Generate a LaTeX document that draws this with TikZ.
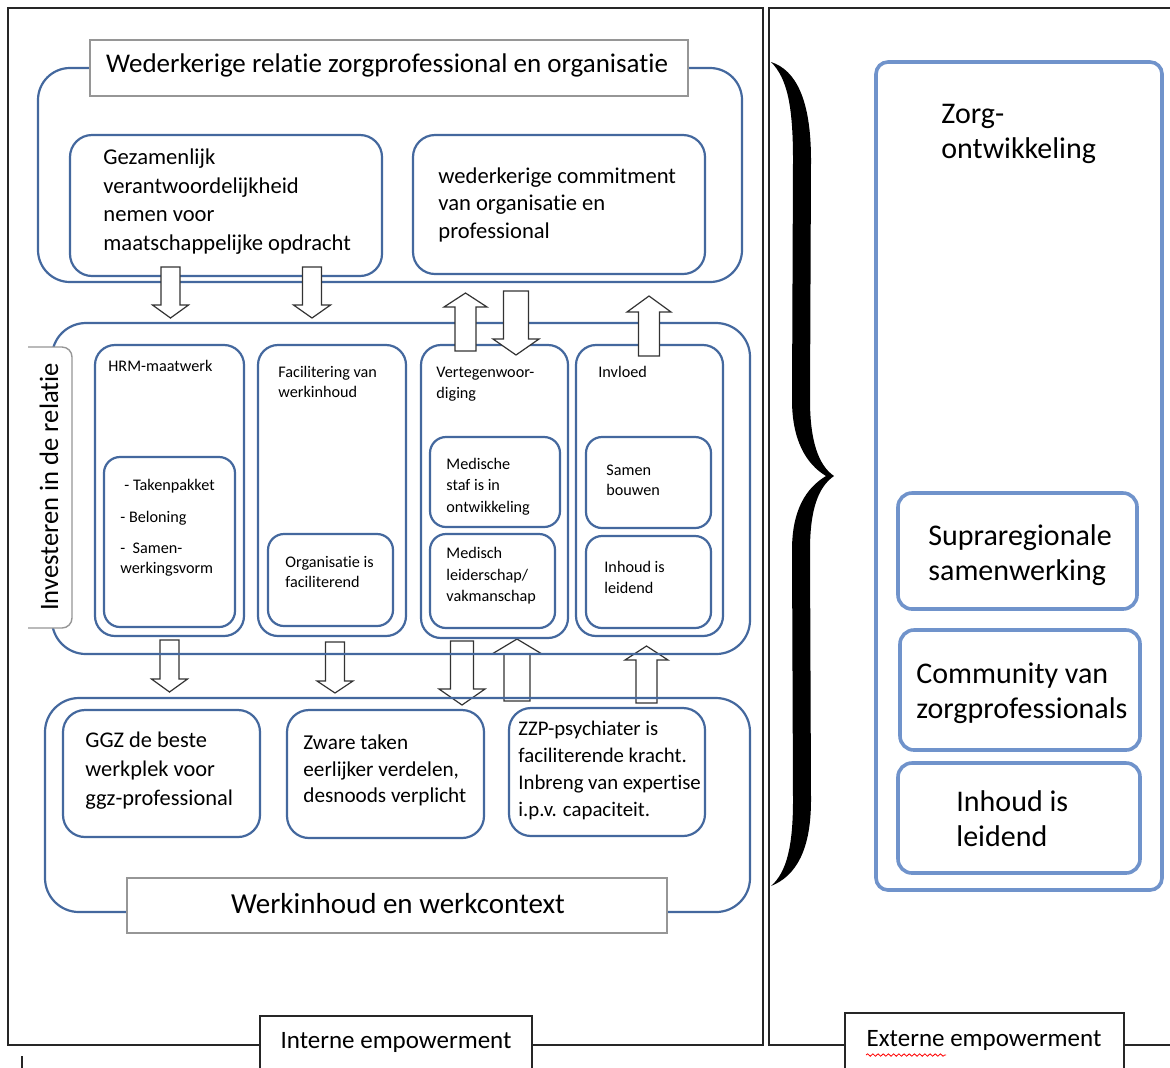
\documentclass[tikz,border=0pt]{standalone}
\usepackage{fontspec}
\setmainfont{Carlito}[Ligatures=NoCommon]
\usetikzlibrary{fit, decorations.pathmorphing}

\definecolor{boxblue}{RGB}{68,104,158}
\definecolor{extblue}{RGB}{112,147,203}
\definecolor{labelgrey}{RGB}{150,150,150}

% block arrow: x, tail, head base, tip, shaft half width, head half width
\newcommand{\fatarrow}[6]{%
  \draw[fatarrow] (#1-#5,#2) -- (#1+#5,#2) -- (#1+#5,#3) -- (#1+#6,#3) -- (#1,#4)
    -- (#1-#6,#3) -- (#1-#5,#3) -- cycle;}

\begin{document}
\begin{tikzpicture}[x=0.5pt, y=-0.5pt,
    frame/.style={draw=black!85, line width=0.9pt},
    bigbox/.style={draw=boxblue, line width=1.1pt, rounded corners=16pt, inner sep=0pt},
    colbox/.style={draw=boxblue, line width=1.1pt, rounded corners=10pt, inner sep=0pt},
    smallbox/.style={draw=boxblue, line width=1.1pt, rounded corners=8pt, inner sep=0pt},
    extbox/.style={draw=extblue, line width=1.8pt, rounded corners=6pt, inner sep=0pt},
    greybox/.style={draw=labelgrey, line width=0.7pt, fill=white, inner sep=0pt},
    labelbox/.style={draw=black!85, line width=0.7pt, fill=white, inner sep=0pt},
    fatarrow/.style={draw=black!80, line width=0.6pt, fill=white, line join=miter},
    txt/.style={anchor=west, align=left, inner sep=0pt, font=\fontsize{11.3}{14.25}\selectfont},
    smalltxt/.style={anchor=west, align=left, inner sep=0pt, font=\fontsize{8.1}{10.25}\selectfont},
    exttxt/.style={anchor=west, align=left, inner sep=0pt, font=\fontsize{15}{17.5}\selectfont}]

    \path[use as bounding box, fill=white] (0,0) rectangle (1170,1067);
    \clip (0,0) rectangle (1170,1067);

    % frames
    \draw[frame] (8,8) rectangle (763,1045);
    \draw[frame] (1180,8) -- (769,8) -- (769,1045) -- (845,1045);
    \draw[frame] (1124,1045) -- (1180,1045);
    \draw[frame] (22,1056) -- (22,1075);

    \node[labelbox, fit={(260,1016) (532,1090)}] (intern) {};
    \node[font=\fontsize{12.5}{15}\selectfont, inner sep=0pt] (interntxt) at (396,1042) {Interne empowerment};
    \node[labelbox, fit={(845,1013) (1124,1090)}] (extern) {};
    \node[font=\fontsize{12.5}{15}\selectfont, inner sep=0pt] (externtxt) at (984,1040) {Externe empowerment};
    \draw[red, line width=0.4pt, decorate, decoration={snake, amplitude=0.6pt, segment length=2.6pt}] (866,1055) -- (946,1055);

    % arrows below the lines
    \fatarrow{169.5}{640}{679}{692}{9.5}{18}
    \fatarrow{335}{642}{681}{693}{9.5}{18}
    \fatarrow{462}{641}{689}{705}{11.5}{23}
    \fatarrow{517}{701}{654}{639}{13}{25}
    \fatarrow{646.5}{703}{660}{646}{10.5}{21.5}

    % wederkerige relatie
    \node[bigbox, fit={(38,68) (742,282)}] (relatie) {};
    \node[greybox, fit={(90,40) (688,96)}] (titel) {};
    \node[font=\fontsize{13.5}{16}\selectfont, inner sep=0pt] (titelt) at (387,65) {Wederkerige relatie zorgprofessional en organisatie};
    \node[colbox, rounded corners=11pt, fit={(70,135) (382,276)}] (gez) {};
    \node[txt] (gezt) at (103,201.5) {Gezamenlijk\\verantwoordelijkheid\\nemen voor\\maatschappelijke opdracht};
    \node[colbox, rounded corners=11pt, fit={(413,135) (705,274)}] (wed) {};
    \node[txt, font=\fontsize{11.3}{13.75}\selectfont] (wedt) at (438,204.5) {wederkerige commitment\\van organisatie en\\professional};

    % investeren in de relatie
    \node[bigbox, rounded corners=17pt, fit={(52,323) (750,654)}] (invest) {};
    \draw[draw=labelgrey, line width=0.7pt, fill=white, rounded corners=5pt] (28,347) -- (72,347) -- (72,628) -- (28,628);
    \node[rotate=90, font=\fontsize{13.3}{16}\selectfont, inner sep=0pt] (investt) at (49,487) {Investeren in de relatie};

    \node[colbox, fit={(95,345) (244,636)}] (hrm) {};
    \node[smallbox, fit={(104,457) (235,627)}] (hrmin) {};
    \node[smalltxt] (hrmt) at (108,366) {HRM-maatwerk};
    \node[smalltxt, font=\fontsize{8.1}{10}\selectfont] (hrmlist) at (120,527.5) {\hspace{2pt}- Takenpakket\\[6pt]- Beloning\\[5.5pt]-\ \ Samen-\\werkingsvorm};

    \node[colbox, fit={(258,345) (406,636)}] (fac) {};
    \node[smallbox, fit={(268,534) (393,626)}] (facin) {};
    \node[smalltxt] (fact) at (278,382) {Facilitering van\\werkinhoud};
    \node[smalltxt] (facint) at (285,572) {Organisatie is\\faciliterend};

    \node[colbox, fit={(421,345) (568,638)}] (vert) {};
    \node[smallbox, fit={(430,437) (560,527)}] (vertin) {};
    \node[smallbox, fit={(430,534) (555,628)}] (vertin2) {};
    \node[smalltxt] (vertt) at (436,384) {Vertegenwoor-\\diging};
    \node[smalltxt, font=\fontsize{8.1}{10.75}\selectfont] (vertint) at (446,486.5) {Medische\\staf is in\\ontwikkeling};
    \node[smalltxt, font=\fontsize{8.1}{10.75}\selectfont] (vertin2t) at (446,576) {Medisch\\leiderschap/\\vakmanschap};

    \node[colbox, fit={(576,345) (723,636)}] (invl) {};
    \node[smallbox, fit={(586,437) (711,528)}] (invlin) {};
    \node[smallbox, fit={(586,536) (711,628)}] (invlin2) {};
    \node[smalltxt] (invlt) at (598,372) {Invloed};
    \node[smalltxt] (invlint) at (606,480.5) {Samen\\bouwen};
    \node[smalltxt] (invlin2t) at (604,577.5) {Inhoud is\\leidend};

    % werkinhoud en werkcontext
    \node[bigbox, rounded corners=17pt, fit={(45,698) (750,912)}] (werk) {};
    \node[colbox, rounded corners=11pt, fit={(63,710) (260,837)}] (ggz) {};
    \node[txt, font=\fontsize{11.2}{14.5}\selectfont] (ggzt) at (85,771) {GGZ de beste\\werkplek voor\\ggz-professional};
    \node[colbox, rounded corners=11pt, fit={(287,710) (484,838)}] (zwaar) {};
    \node[txt, font=\fontsize{10.6}{13.3}\selectfont] (zwaart) at (303,770.5) {Zware taken\\eerlijker verdelen,\\desnoods verplicht};
    \node[colbox, rounded corners=11pt, fit={(509,708) (705,836)}] (zzp) {};
    \node[txt, font=\fontsize{10.4}{13.5}\selectfont] (zzpt) at (518,770.5) {ZZP-psychiater is\\faciliterende kracht.\\Inbreng van expertise\\i.p.v. capaciteit.};
    \node[greybox, fit={(127,878) (667,933)}] (werkbox) {};
    \node[font=\fontsize{14.5}{17}\selectfont, inner sep=0pt] (werkt) at (398,904) {Werkinhoud en werkcontext};

    % arrows on top
    \fatarrow{170.5}{267}{305}{318}{9.5}{18}
    \fatarrow{312}{267}{305}{318}{9.5}{18.5}
    \fatarrow{465.5}{351}{307}{293}{10.5}{21.5}
    \fatarrow{516}{291}{339}{355}{12.5}{23}
    \fatarrow{649}{356}{312}{296}{10.5}{22}

    % brace
    \fill[black] (771,62) .. controls (796,70) and (811,100) .. (811,160) -- (810,400)
        .. controls (810,440) and (818,465) .. (834,476)
        .. controls (818,487) and (810,510) .. (810,550) -- (811,800)
        .. controls (811,850) and (796,876) .. (771,886)
        .. controls (787,872) and (793,845) .. (793,800) -- (792,550)
        .. controls (792,510) and (806,488) .. (826,476)
        .. controls (806,464) and (792,440) .. (792,400) -- (793,160)
        .. controls (793,105) and (787,78) .. (771,62) -- cycle;

    % externe empowerment
    \node[extbox, fit={(876,62) (1162,890)}] (zorg) {};
    \node[exttxt] (zorgt) at (941,133.5) {Zorg-\\ontwikkeling};
    \node[extbox, rounded corners=7pt, fit={(898,493) (1137,609)}] (supra) {};
    \node[exttxt] (suprat) at (928,555.5) {Supraregionale\\samenwerking};
    \node[extbox, rounded corners=7pt, fit={(900,630) (1140,750)}] (comm) {};
    \node[exttxt] (commt) at (916,693.5) {Community van\\zorgprofessionals};
    \node[extbox, rounded corners=7pt, fit={(898,763) (1140,873)}] (inhoud) {};
    \node[exttxt] (inhoudt) at (956,818.5) {Inhoud is\\leidend};
\end{tikzpicture}
\end{document}
